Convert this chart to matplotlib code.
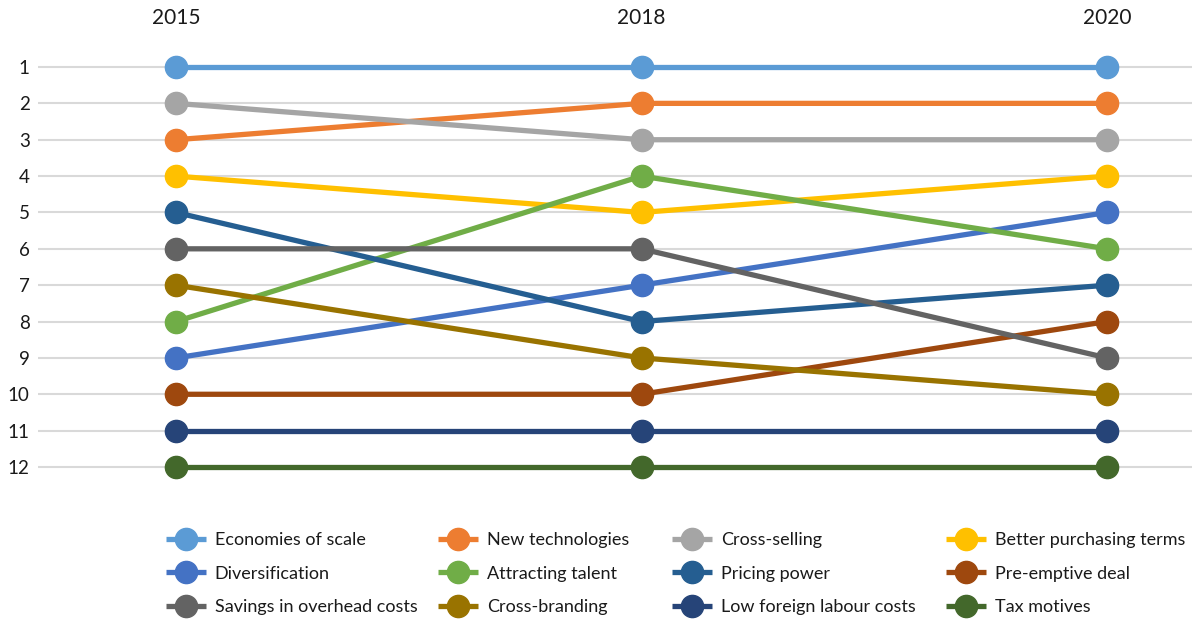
import numpy as np
import matplotlib.pyplot as plt

plt.rcParams['font.family'] = ['Lato', 'DejaVu Sans']

years = ['2015', '2018', '2020']
labels = ['Economies of scale', 'New technologies', 'Cross-selling', 'Better purchasing terms',
          'Diversification', 'Attracting talent', 'Pricing power', 'Pre-emptive deal',
          'Savings in overhead costs', 'Cross-branding', 'Low foreign labour costs', 'Tax motives']
economies = [1, 1, 1]
new_tech = [3, 2, 2]
cross_selling = [2, 3, 3]
purchasing = [4, 5, 4]
diversification = [9, 7, 5]
talent = [8, 4, 6]
pricing = [5, 8, 7]
pre_emptive = [10, 10, 8]
overhead = [6, 6, 9]
cross_branding = [7, 9, 10]
labour = [11, 11, 11]
tax = [12, 12, 12]
series = [economies, new_tech, cross_selling, purchasing, diversification, talent,
          pricing, pre_emptive, overhead, cross_branding, labour, tax]
colors = ['#5B9BD5', '#ED7D31', '#A5A5A5', '#FFC000', '#4472C4', '#70AD47',
          '#255E91', '#9E480E', '#636363', '#997300', '#264478', '#43682B']

W, H = 1192, 621
fig = plt.figure(figsize=(W / 100, H / 100), dpi=100)
ax = fig.add_axes([38 / W, 1 - 500 / H, 1 - 38 / W, 460 / H])

x = np.arange(len(years))
handles = []
for vals, c, lab in zip(series, colors, labels):
    h, = ax.plot(x, vals, color=c, lw=3.8, marker='o', ms=16, label=lab,
                 solid_capstyle='butt', zorder=3)
    handles.append(h)

ax.set_xlim(-(176 - 38) / 465.5, 2 + (W - 1107) / 465.5)
ax.set_ylim(12 + (500 - 467) / 36.36, 1 - (67 - 40) / 36.36)
ax.set_yticks(range(1, 13))
ax.set_xticks(x)
ax.set_xticklabels(years)
ax.xaxis.tick_top()
ax.tick_params(axis='x', length=0, pad=9, labelsize=15, labelcolor='#1a1a1a')
ax.tick_params(axis='y', length=0, pad=6, labelsize=13.5, labelcolor='#1a1a1a')
ax.grid(axis='y', color='#d9d9d9', lw=1.5, zorder=0)
for s in ax.spines.values():
    s.set_visible(False)

# one legend per column so the columns sit where the reference has them
col_left = [166, 438, 672, 946]
for j, xl in enumerate(col_left):
    idx = [j, j + 4, j + 8]
    leg = fig.legend([handles[i] for i in idx], [labels[i] for i in idx],
                     loc='upper left', bbox_to_anchor=(xl / W, 1 - 532 / H),
                     frameon=False, fontsize=13, handlelength=2.2, handletextpad=0.5,
                     labelspacing=0.98, borderpad=0, borderaxespad=0)
    for t in leg.get_texts():
        t.set_color('#1a1a1a')

fig.savefig('out.png', dpi=100)
